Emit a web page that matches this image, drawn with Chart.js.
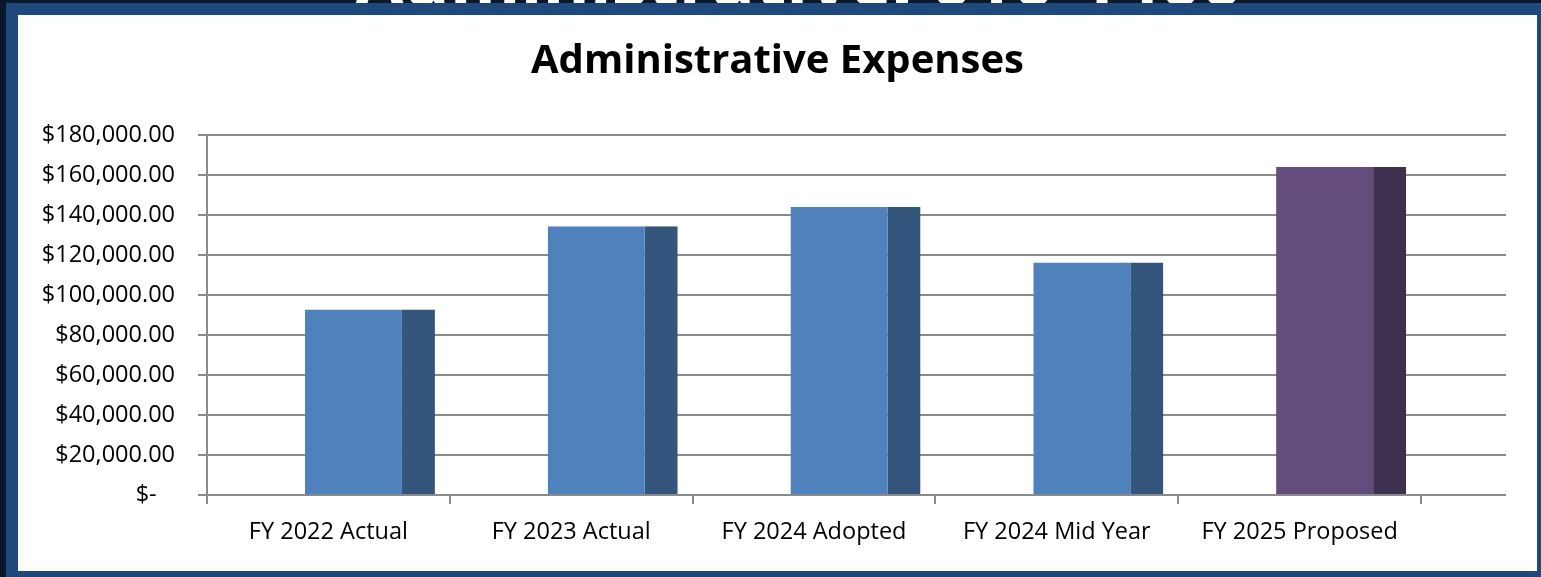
<!DOCTYPE html>
<html>
<head>
<meta charset="utf-8">
<title>Administrative Expenses</title>
<script src="https://cdn.jsdelivr.net/npm/chart.js@4.4.1/dist/chart.umd.min.js"></script>
<style>
  html, body { margin: 0; padding: 0; }
  body {
    width: 1541px; height: 577px; position: relative; overflow: hidden;
    background: #0a182e; font-family: "Open Sans", sans-serif;
  }
  .slide-title {
    position: absolute; left: 28px; top: -58px; width: 1541px;
    text-align: center; color: #fff; font-weight: bold;
    font-size: 72px; line-height: 72px; white-space: nowrap;
  }
  .frame {
    position: absolute; left: 6px; top: 3px; width: 1535px; height: 574px;
    background: #1f497d;
  }
  .card {
    position: absolute; left: 18px; top: 15px; width: 1519px; height: 556px;
    background: #fff;
  }
  canvas { display: block; }
</style>
</head>
<body>
<div class="slide-title">Administrative: 010-1400</div>
<div class="frame"></div>
<div class="card">
  <canvas id="chart" width="1519" height="556"></canvas>
</div>

<script>
const categories = ['FY 2022 Actual', 'FY 2023 Actual', 'FY 2024 Adopted', 'FY 2024 Mid Year', 'FY 2025 Proposed'];
const expenses = [92800, 134400, 144000, 116300, 164000];
const frontColors = ['#4f81bd', '#4f81bd', '#4f81bd', '#4f81bd', '#634d7d'];
const sideColors = ['#34557c', '#34557c', '#34557c', '#34557c', '#3e3150'];
const yTickValues = [0, 20000, 40000, 60000, 80000, 100000, 120000, 140000, 160000, 180000];

const gridColor = '#8a8a8a';
const wallDepth = 85; // excel 3d back wall pokes out past the last category

function money(v) {
    if (v === 0) return '$-   ';
    return '$' + v.toLocaleString('en-US', { minimumFractionDigits: 2, maximumFractionDigits: 2 });
}

// gridlines continue onto the back wall, right of the category axis
const backWall = {
    id: 'backWall',
    beforeDatasetsDraw(chart) {
        const { ctx, chartArea, scales: { y } } = chart;
        ctx.save();
        ctx.strokeStyle = gridColor;
        ctx.lineWidth = 2;
        y.ticks.forEach(t => {
            const py = Math.round(y.getPixelForValue(t.value) - 1) + 1;
            ctx.beginPath();
            ctx.moveTo(chartArea.right, py);
            ctx.lineTo(chartArea.right + wallDepth, py);
            ctx.stroke();
        });
        ctx.restore();
    }
};

const ctx = document.getElementById('chart').getContext('2d');

new Chart(ctx, {
    type: 'bar',
    data: {
        labels: categories,
        datasets: [
            {
                // empty slot, pushes the columns right like the 3d layout
                label: '',
                data: categories.map(() => null),
                backgroundColor: 'transparent'
            },
            {
                label: 'Administrative Expenses',
                data: expenses,
                backgroundColor: frontColors,
                borderColor: sideColors,
                borderWidth: { top: 0, right: 33, bottom: 0, left: 0 },
                borderSkipped: false
            }
        ]
    },
    options: {
        responsive: false,
        animation: false,
        categoryPercentage: 0.684,
        barPercentage: 1.566,
        plugins: {
            legend: { display: false },
            tooltip: { enabled: false },
            title: {
                display: true,
                text: 'Administrative Expenses',
                color: '#000',
                font: { family: 'Open Sans', size: 40, weight: 'bold', lineHeight: 1.2 },
                padding: { top: 23, bottom: 49 }
            }
        },
        scales: {
            y: {
                min: 0,
                max: 180000,
                afterBuildTicks: s => { s.ticks = yTickValues.map(v => ({ value: v })); },
                afterFit: s => { s.width = 189; },
                grid: { color: gridColor, lineWidth: 2, tickLength: 9, drawTicks: true },
                border: { color: gridColor, width: 2 },
                ticks: {
                    color: '#000',
                    padding: 23,
                    font: { family: 'Open Sans', size: 23.5 },
                    callback: v => money(v)
                }
            },
            // empty right axis keeps room for the back wall, title stays centred on the card
            wall: {
                type: 'linear',
                position: 'right',
                display: true,
                afterFit: s => { s.width = 116; },
                grid: { display: false },
                border: { display: false },
                ticks: { display: false }
            },
            x: {
                afterFit: s => { s.height = 76; },
                grid: { drawOnChartArea: false, color: gridColor, lineWidth: 2, tickLength: 9 },
                border: { color: gridColor, width: 2 },
                ticks: {
                    color: '#000',
                    padding: 14,
                    maxRotation: 0,
                    font: { family: 'Open Sans', size: 23.5 }
                }
            }
        }
    },
    plugins: [backWall]
});
</script>
</body>
</html>
